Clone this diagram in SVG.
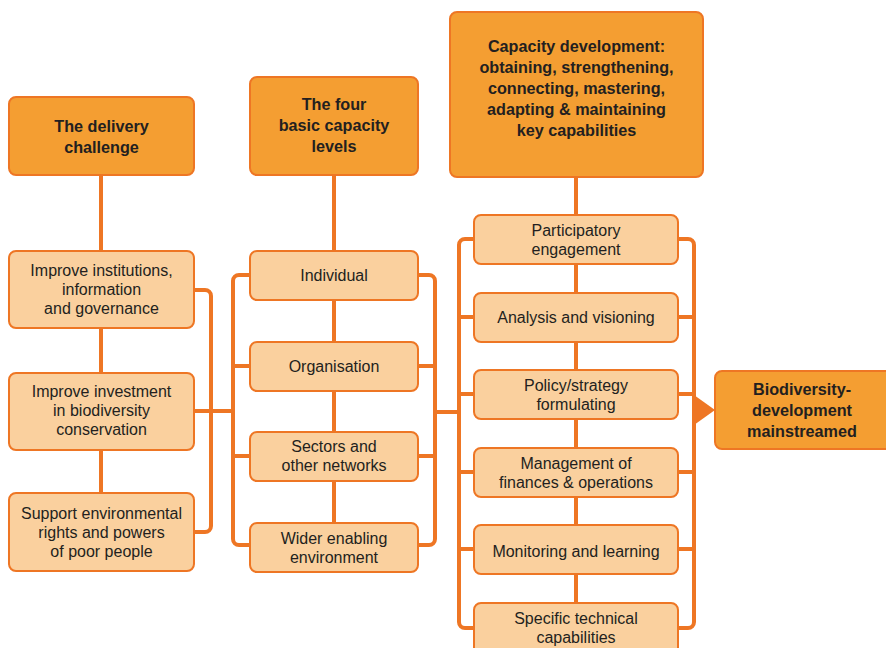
<svg xmlns="http://www.w3.org/2000/svg" width="886" height="648" viewBox="0 0 886 648">
  <style>
    .bg { fill: #ffffff; }
    .line { fill: none; stroke: #EE7624; stroke-width: 4; }
    .head { fill: #F49E32; stroke: #EE7624; stroke-width: 2; }
    .item { fill: #FAD09E; stroke: #EE7624; stroke-width: 2; }
    .ht { font-family: "Liberation Sans", Arial, sans-serif; font-size: 16.2px; font-weight: bold; fill: #231F20; text-anchor: middle; }
    .it { font-family: "Liberation Sans", Arial, sans-serif; font-size: 16px; fill: #231F20; text-anchor: middle; }
  </style>
  <rect class="bg" x="0" y="0" width="886" height="648"/>

  <!-- connectors, drawn beneath the boxes -->
  <g id="connectors">
    <path class="line" d="M101 175 V493"/>
    <path class="line" d="M194 290 H205 A6 6 0 0 1 211 296 V526 A6 6 0 0 1 205 532 H194"/>
    <path class="line" d="M194 411 H233"/>

    <path class="line" d="M250 275 H239 A6 6 0 0 0 233 281 V539 A6 6 0 0 0 239 545 H250"/>
    <path class="line" d="M233 366 H250 M233 456 H250"/>
    <path class="line" d="M334 175 V523"/>
    <path class="line" d="M418 275 H429 A6 6 0 0 1 435 281 V539 A6 6 0 0 1 429 545 H418"/>
    <path class="line" d="M418 366 H435 M418 456 H435"/>
    <path class="line" d="M435 412 H459"/>

    <path class="line" d="M576 177 V648"/>
    <path class="line" d="M474 239 H465 A6 6 0 0 0 459 245 V622 A6 6 0 0 0 465 628 H474"/>
    <path class="line" d="M459 317 H474 M459 394 H474 M459 472 H474 M459 549 H474"/>
    <path class="line" d="M678 239 H688 A6 6 0 0 1 694 245 V622 A6 6 0 0 1 688 628 H678"/>
    <path class="line" d="M678 317 H694 M678 394 H694 M678 472 H694 M678 549 H694"/>
    <polygon points="694,395 715,410 694,425" fill="#EE7624"/>
  </g>

  <!-- column 1 -->
  <g id="delivery-challenge">
    <rect class="head" x="9" y="97" width="185" height="78" rx="7"/>
    <text class="ht" x="101.5" y="132">The delivery</text>
    <text class="ht" x="101.5" y="153">challenge</text>
  </g>
  <g id="improve-institutions">
    <rect class="item" x="9" y="251" width="185" height="77" rx="7"/>
    <text class="it" x="101.5" y="276">Improve institutions,</text>
    <text class="it" x="101.5" y="295">information</text>
    <text class="it" x="101.5" y="314">and governance</text>
  </g>
  <g id="improve-investment">
    <rect class="item" x="9" y="373" width="185" height="77" rx="7"/>
    <text class="it" x="101.5" y="397">Improve investment</text>
    <text class="it" x="101.5" y="416">in biodiversity</text>
    <text class="it" x="101.5" y="435">conservation</text>
  </g>
  <g id="support-rights">
    <rect class="item" x="9" y="493" width="185" height="78" rx="7"/>
    <text class="it" x="101.5" y="519">Support environmental</text>
    <text class="it" x="101.5" y="538">rights and powers</text>
    <text class="it" x="101.5" y="557">of poor people</text>
  </g>

  <!-- column 2 -->
  <g id="capacity-levels">
    <rect class="head" x="250" y="77" width="168" height="98" rx="7"/>
    <text class="ht" x="334" y="110">The four</text>
    <text class="ht" x="334" y="131">basic capacity</text>
    <text class="ht" x="334" y="152">levels</text>
  </g>
  <g id="individual">
    <rect class="item" x="250" y="251" width="168" height="49" rx="7"/>
    <text class="it" x="334" y="281">Individual</text>
  </g>
  <g id="organisation">
    <rect class="item" x="250" y="342" width="168" height="49" rx="7"/>
    <text class="it" x="334" y="372">Organisation</text>
  </g>
  <g id="sectors">
    <rect class="item" x="250" y="432" width="168" height="49" rx="7"/>
    <text class="it" x="334" y="452">Sectors and</text>
    <text class="it" x="334" y="471">other networks</text>
  </g>
  <g id="wider-environment">
    <rect class="item" x="250" y="523" width="168" height="49" rx="7"/>
    <text class="it" x="334" y="544">Wider enabling</text>
    <text class="it" x="334" y="563">environment</text>
  </g>

  <!-- column 3 -->
  <g id="capacity-development">
    <rect class="head" x="450" y="12" width="253" height="165" rx="7"/>
    <text class="ht" x="576.5" y="52">Capacity development:</text>
    <text class="ht" x="576.5" y="73">obtaining, strengthening,</text>
    <text class="ht" x="576.5" y="94">connecting, mastering,</text>
    <text class="ht" x="576.5" y="115">adapting &amp; maintaining</text>
    <text class="ht" x="576.5" y="136">key capabilities</text>
  </g>
  <g id="participatory">
    <rect class="item" x="474" y="215" width="204" height="49" rx="7"/>
    <text class="it" x="576" y="236">Participatory</text>
    <text class="it" x="576" y="255">engagement</text>
  </g>
  <g id="analysis">
    <rect class="item" x="474" y="293" width="204" height="49" rx="7"/>
    <text class="it" x="576" y="323">Analysis and visioning</text>
  </g>
  <g id="policy">
    <rect class="item" x="474" y="370" width="204" height="49" rx="7"/>
    <text class="it" x="576" y="391">Policy/strategy</text>
    <text class="it" x="576" y="410">formulating</text>
  </g>
  <g id="management">
    <rect class="item" x="474" y="448" width="204" height="49" rx="7"/>
    <text class="it" x="576" y="469">Management of</text>
    <text class="it" x="576" y="488">finances &amp; operations</text>
  </g>
  <g id="monitoring">
    <rect class="item" x="474" y="525" width="204" height="49" rx="7"/>
    <text class="it" x="576" y="557">Monitoring and learning</text>
  </g>
  <g id="technical">
    <rect class="item" x="474" y="603" width="204" height="52" rx="7"/>
    <text class="it" x="576" y="624">Specific technical</text>
    <text class="it" x="576" y="643">capabilities</text>
  </g>

  <!-- outcome -->
  <g id="mainstreamed">
    <rect class="head" x="715" y="371" width="178" height="78" rx="7"/>
    <text class="ht" x="802" y="395">Biodiversity-</text>
    <text class="ht" x="802" y="416">development</text>
    <text class="ht" x="802" y="437">mainstreamed</text>
  </g>
</svg>
